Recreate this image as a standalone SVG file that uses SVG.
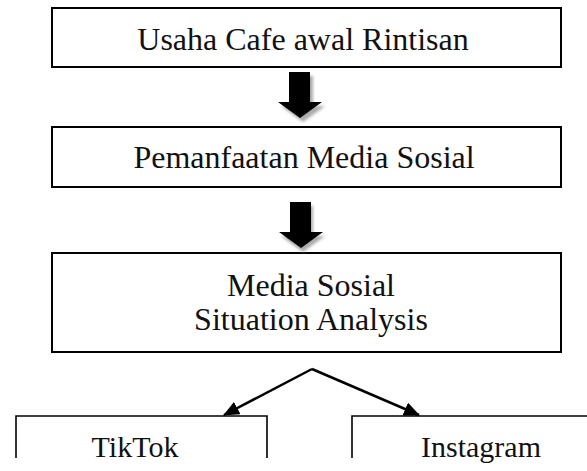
<svg xmlns="http://www.w3.org/2000/svg" width="587" height="471" viewBox="0 0 587 471">
<style>
.box{fill:#fff;stroke:#000;stroke-width:2}
.t{font-family:"Liberation Serif","Times New Roman",serif;font-size:32px;fill:#111;text-anchor:middle}
.ts{font-family:"Liberation Serif","Times New Roman",serif;font-size:30px;fill:#111;text-anchor:middle}
.side{fill:none;stroke:#000;stroke-width:1.6}
.conn{fill:none;stroke:#000;stroke-width:2.5}
</style>
<defs>
<filter id="blur" x="-20%" y="-20%" width="140%" height="140%"><feGaussianBlur stdDeviation="1.5"/></filter>
<marker id="ah" markerWidth="16" markerHeight="14" refX="15" refY="7" orient="auto" markerUnits="userSpaceOnUse" viewBox="0 0 16 14">
<path d="M0,0 L16,7 L0,14 Z" fill="#000"/>
</marker>
<path id="blk" d="M-11,0 H10 V30 H22 L0,46 L-22,30 H-11 Z"/>
</defs>
<rect width="587" height="471" fill="#fff"/>
<g id="n1"><rect class="box" x="52" y="8" width="509" height="59"/><text class="t" x="303" y="50">Usaha Cafe awal Rintisan</text></g>
<g id="n2"><rect class="box" x="52" y="127" width="509" height="60"/><text class="t" x="304" y="168">Pemanfaatan Media Sosial</text></g>
<g id="n3"><rect class="box" x="52" y="253" width="509" height="99"/><text class="t" x="311" y="296">Media Sosial</text><text class="t" x="311" y="330">Situation Analysis</text></g>
<g id="n4"><path class="side" d="M16,458 V416 H267 V458"/><text class="ts" x="135" y="457">TikTok</text></g>
<g id="n5"><path class="side" d="M352,458 V416 H590"/><text class="ts" x="481" y="457">Instagram</text></g>
<g id="connectors">
<use href="#blk" transform="translate(303,76)" fill="#aaa" filter="url(#blur)"/>
<use href="#blk" transform="translate(300,72)" fill="#000"/>
<use href="#blk" transform="translate(303,206)" fill="#aaa" filter="url(#blur)"/>
<use href="#blk" transform="translate(301,202)" fill="#000"/>
<path class="conn" d="M312,369 L224,415" marker-end="url(#ah)"/>
<path class="conn" d="M312,369 L419,415" marker-end="url(#ah)"/>
</g>
</svg>
